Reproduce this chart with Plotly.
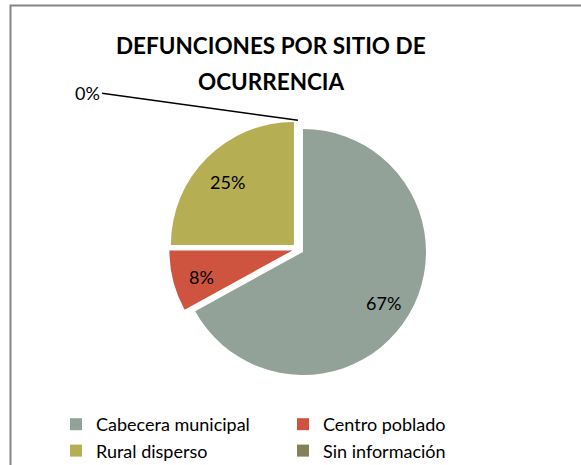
import math
import plotly.graph_objects as go

# Data
labels = ["Cabecera municipal", "Centro poblado", "Rural disperso", "Sin información"]
values = [67, 8, 25, 0]
colors = ["#93A299", "#CF543F", "#B5AE53", "#848058"]
title_lines = ["DEFUNCIONES POR SITIO DE", "OCURRENCIA"]

W, H = 581, 465
FONT = "Lato"
PULL = 0.047
DOM_X = [0.2912, 0.7346]
DOM_Y = [0.1875, 0.7415]
LABEL_R = 0.76  # radial position of data labels (fraction of radius)

total = sum(values)
pct_text = [f"{round(v / total * 100)}%" for v in values]

fig = go.Figure()
fig.add_trace(go.Pie(
    labels=labels,
    values=values,
    sort=False,
    direction="clockwise",
    rotation=0,
    pull=[PULL] * len(values),
    marker=dict(colors=colors, line=dict(width=0)),
    textinfo="none",
    domain=dict(x=DOM_X, y=DOM_Y),
    showlegend=True,
    hoverinfo="label+percent",
))

# Pie geometry (same rules plotly uses: r = box/2/(1+maxPull), center = domain centre)
cx = W * (DOM_X[0] + DOM_X[1]) / 2
cy = H * (1 - (DOM_Y[0] + DOM_Y[1]) / 2)
box = min(W * (DOM_X[1] - DOM_X[0]), H * (DOM_Y[1] - DOM_Y[0]))
r = box / 2 / (1 + PULL)

cum = 0.0
for v, t in zip(values, pct_text):
    start = cum / total * 2 * math.pi
    cum += v
    end = cum / total * 2 * math.pi
    mid = (start + end) / 2
    dx, dy = math.sin(mid), -math.cos(mid)
    sx, sy = cx + PULL * r * dx, cy + PULL * r * dy  # pulled slice apex
    if v > 0:
        lx, ly = sx + LABEL_R * r * dx, sy + LABEL_R * r * dy
        fig.add_annotation(x=lx / W, y=1 - (ly + 3) / H, xref="paper", yref="paper",
                           text=t, showarrow=False,
                           xanchor="center", yanchor="middle",
                           font=dict(family=FONT, size=18, color="#000000"))
    else:
        # zero slice: outside label with leader line to the slice edge
        ex, ey = sx + r * dx, sy + r * dy
        fig.add_annotation(x=ex / W, y=1 - ey / H, xref="paper", yref="paper",
                           ax=-196, ay=-27,
                           text=t, showarrow=True, arrowhead=0, arrowwidth=1.5,
                           arrowcolor="#000000", xanchor="right", yanchor="middle",
                           font=dict(family=FONT, size=18, color="#000000"))

# Title lines
fig.add_annotation(x=271 / W, y=1 - 46 / H, xref="paper", yref="paper",
                   text=f"<b>{title_lines[0]}</b>", showarrow=False,
                   xanchor="center", yanchor="middle",
                   font=dict(family=FONT, size=22.5, color="#000000"))
fig.add_annotation(x=271 / W, y=1 - 81 / H, xref="paper", yref="paper",
                   text=f"<b>{title_lines[1]}</b>", showarrow=False,
                   xanchor="center", yanchor="middle",
                   font=dict(family=FONT, size=22.5, color="#000000"))

# Chart border
fig.add_shape(type="rect", xref="paper", yref="paper",
              x0=10.5 / W, x1=1.05, y0=-0.05, y1=1 - 5.5 / H,
              line=dict(color="#868686", width=2), fillcolor="rgba(0,0,0,0)")

fig.update_layout(
    width=W, height=H,
    margin=dict(l=0, r=0, t=0, b=0, autoexpand=False),
    paper_bgcolor="#FFFFFF",
    plot_bgcolor="#FFFFFF",
    font=dict(family=FONT, color="#000000"),
    legend=dict(
        orientation="h",
        x=56 / W, xanchor="left",
        y=1 - 406 / H, yanchor="top",
        entrywidth=182, entrywidthmode="pixels",
        font=dict(family=FONT, size=18, color="#000000"),
        traceorder="normal",
        bgcolor="rgba(0,0,0,0)",
    ),
)

fig.write_html("out.html", config={"displayModeBar": False})

# remove the browser's default page margin so the figure sits at (0, 0)
with open("out.html", "r", encoding="utf-8") as f:
    html = f.read()
html = html.replace("<head>", "<head><style>html,body{margin:0;padding:0;overflow:hidden;}</style>", 1)
with open("out.html", "w", encoding="utf-8") as f:
    f.write(html)
